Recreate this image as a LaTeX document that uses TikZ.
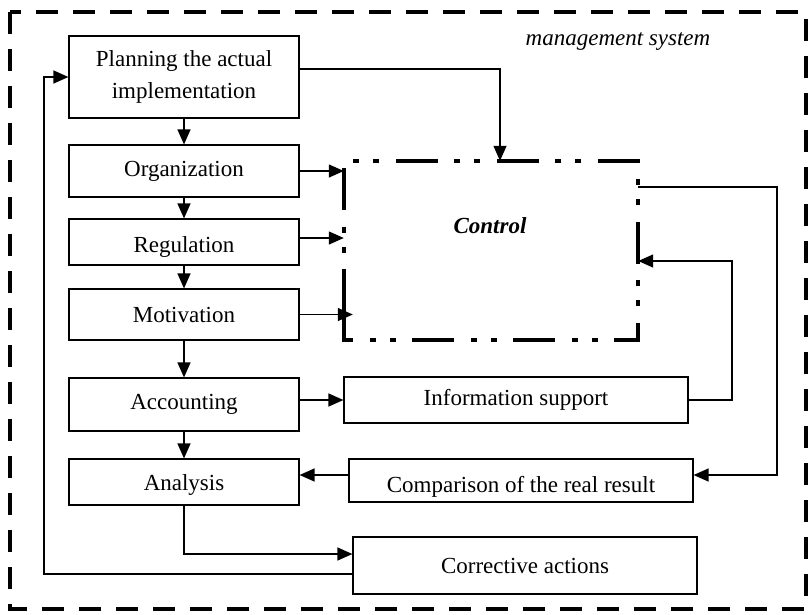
\documentclass[tikz,border=0pt]{standalone}
\usepackage{fontspec}
\setmainfont{Liberation Serif}
\usetikzlibrary{arrows.meta}
\newcommand{\lowtext}[2]{\raisebox{-#1}[\height][\depth]{#2}}
\begin{document}
\begin{tikzpicture}[x=1pt,y=-1pt,
  box/.style={draw, line width=1.2pt, inner sep=0pt, minimum width=230pt, align=center,
    font=\fontsize{23}{32}\selectfont},
  wbox/.style={box, minimum width=344pt},
  arr/.style={line width=1.3pt, -{Triangle[length=15pt,width=13pt]}},
  outer/.style={line width=4.5pt, dash pattern=on 22pt off 15pt},
  ctrlline/.style={line width=4.5pt, dash pattern=on 42pt off 17pt on 6pt off 14pt on 6pt off 16pt}]
\useasboundingbox (0,0) rectangle (811,614);
\draw[outer] (10,12) rectangle (806,609);
\node[font=\fontsize{23}{28}\selectfont\itshape] (ms) at (618,42) {management system};

\node[box, minimum height=82pt] (plan) at (184,77) {Planning the actual\\implementation};
\node[box, minimum height=52pt] (org) at (184,171) {Organization};
\node[box, minimum height=46pt] (reg) at (184,242) {\lowtext{5pt}{Regulation}};
\node[box, minimum height=51pt] (mot) at (184,314.5) {Motivation};
\node[box, minimum height=53pt] (acc) at (184,404.5) {Accounting};
\node[box, minimum height=46pt] (ana) at (184,482) {\lowtext{3pt}{Analysis}};
\node[wbox, minimum height=46pt] (info) at (516,400) {Information support};
\node[wbox, minimum height=43pt] (comp) at (521,480.5) {\lowtext{6pt}{Comparison of the real result}};
\node[wbox, minimum height=57pt] (corr) at (525,565.5) {Corrective actions};

\node[inner sep=0pt, minimum width=294pt, minimum height=179pt] (ctrl) at (491,250.5) {};
\draw[ctrlline] ([yshift=33pt]ctrl.south west) -- (ctrl.south west) -- (ctrl.south east)
  -- (ctrl.north east) -- (ctrl.north west) -- cycle;
\node[font=\fontsize{23}{28}\selectfont\bfseries\itshape] (ctext) at (490,226) {Control};

% vertical chain
\draw[arr] (plan.south) -- (org.north);
\draw[arr] (org.south) -- (reg.north);
\draw[arr] (reg.south) -- (mot.north);
\draw[arr] (mot.south) -- (acc.north);
\draw[arr] (acc.south) -- (ana.north);

% into control
\draw[arr] ([yshift=8pt]plan.east) -| ([xshift=9pt]ctrl.north);
\draw[arr] (org.east) -- (ctrl.west |- org.east);
\draw[arr] ([yshift=4pt]reg.east) -- (ctrl.west |- 0,238);
\draw[arr] (mot.east) -- ([xshift=9pt]ctrl.west |- mot.east);

% right loops
\draw[arr] (ctrl.east |- 0,187) -- (777,187) |- ([yshift=5.5pt]comp.east);
\draw[arr] (info.east) -| (732,261) -- (ctrl.east |- 0,261);

% lower flows
\draw[arr] (acc.east |- info.west) -- (info.west);
\draw[arr] ([yshift=5.5pt]comp.west) -- (ana.east |- 0,475);
\draw[arr] (ana.south) |- ([yshift=11.5pt]corr.west);
\draw[arr] ([yshift=-8.5pt]corr.west) -| (44,77) -- (plan.west);
\end{tikzpicture}
\end{document}
